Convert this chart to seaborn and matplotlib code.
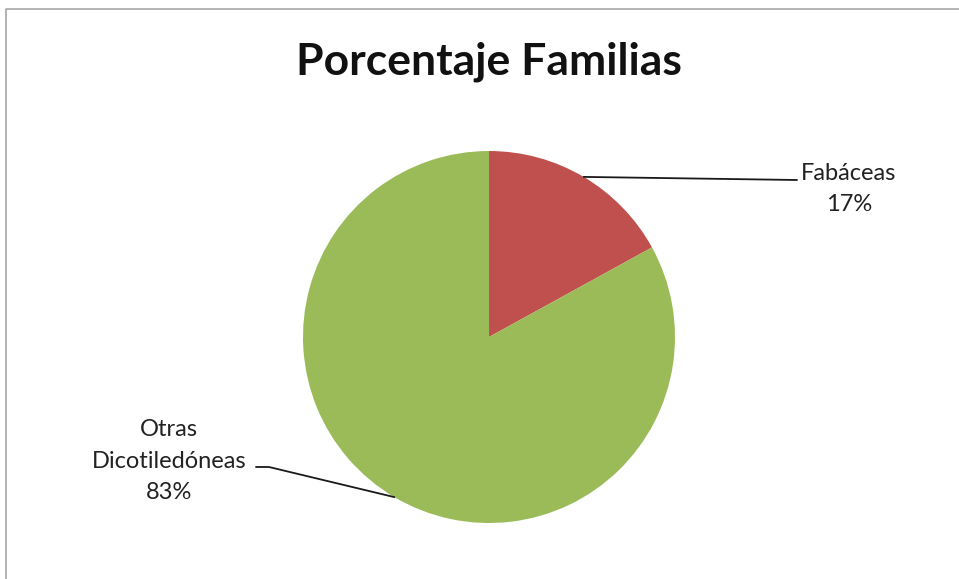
""" Porcentaje de familias - pie chart """

import numpy as np
import matplotlib.pyplot as plt
import seaborn as sns

# Data
categories = ["Fabáceas", "Otras\nDicotiledóneas"]
percentages = [17, 83]
colors = ["#C0504D", "#9BBB59"]

sns.set_theme(style="white")
plt.rcParams["font.family"] = ["Lato", "DejaVu Sans"]

W, H = 959, 579
fig = plt.figure(figsize=(W / 100, H / 100), dpi=100)
ax = fig.add_axes([0, 0, 1, 1])

# chart frame (only top and left visible in the original)
ax.plot([5.5, 5.5, W], [0, H - 8.5, H - 8.5], color="#A6A6A6", lw=1.2,
        solid_capstyle="butt")

cx, cy, r = 489, H - 337, 186
wedges, _ = ax.pie(percentages, colors=colors, startangle=90, counterclock=False,
                   center=(cx, cy), radius=r, frame=True,
                   wedgeprops=dict(linewidth=0))
ax.set_xlim(0, W)
ax.set_ylim(0, H)
ax.set_aspect("equal")
ax.axis("off")

ax.text(cx, H - 62, "Porcentaje Familias", ha="center", va="center",
        fontsize=32, fontweight="bold", color="#111111")

# labels with leader lines
label_pos = [(849, H - 189), (169, H - 461)]
elbows = [(797, H - 180), (256, H - 467)]
for w, lab, pct, (tx, ty), (ex, ey) in zip(wedges, categories, percentages,
                                           label_pos, elbows):
    ang = np.deg2rad((w.theta1 + w.theta2) / 2)
    px, py = cx + r * np.cos(ang), cy + r * np.sin(ang)
    if ex < cx:
        xs, ys = [px, ex + 13, ex], [py, ey, ey]
    else:
        xs, ys = [px, ex], [py, ey]
    ax.plot(xs, ys, color="#1A1A1A", lw=1.3)
    ax.text(tx, ty, f"{lab}\n{pct}%", ha="center", va="center",
            fontsize=17, color="#222222", linespacing=1.62)

fig.savefig("out.png", dpi=100)
